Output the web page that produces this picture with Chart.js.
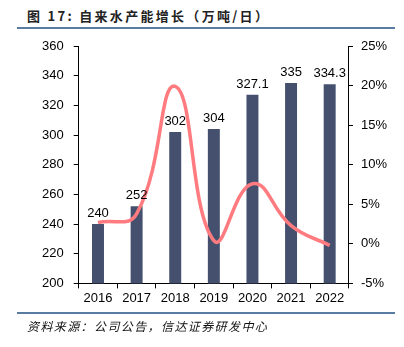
<!DOCTYPE html>
<html>
<head>
<meta charset="utf-8">
<script src="https://cdn.jsdelivr.net/npm/chart.js@4"></script>
<style>
  body { margin: 0; background: #fff; width: 404px; height: 347px; overflow: hidden; position: relative; font-family: "Liberation Sans", Arial, sans-serif; }
  #title { position: absolute; left: 27px; top: 6px; font-size: 13px; font-weight: bold; color: #222; font-family: "Noto Sans CJK SC", sans-serif; letter-spacing: 2.3px; }
  .rule { position: absolute; left: 17px; width: 378px; height: 2px; background: #5a7ca3; }
  #footer { position: absolute; left: 27px; top: 317px; font-size: 12px; font-style: italic; color: #111; font-family: "Noto Sans CJK SC", sans-serif; letter-spacing: 1.4px; }
  #wrap { position: absolute; left: 0; top: 0; width: 404px; height: 347px; }
</style>
</head>
<body>
<div id="title">图 17:  自来水产能增长（万吨/日）</div>
<div class="rule" style="top:27px"></div>
<div id="wrap"><canvas id="capChart"></canvas></div>
<div class="rule" style="top:312px"></div>
<div id="footer">资料来源：公司公告，信达证券研发中心</div>
<script>
// 年份与数据
const years = ['2016', '2017', '2018', '2019', '2020', '2021', '2022'];
const capacity = [240, 252, 302, 304, 327.1, 335, 334.3];   // 万吨/日
const growth = [2.7, 3.8, 19.9, 0.4, 7.6, 2.3, -0.2];        // %
const capLabels = ['240', '252', '302', '304', '327.1', '335', '334.3'];

// 柱顶数值标签
const barLabels = {
    id: 'barLabels',
    afterDatasetsDraw(chart) {
        const ctx = chart.ctx;
        const meta = chart.getDatasetMeta(1);
        ctx.save();
        ctx.font = '13px "Liberation Sans", Arial, sans-serif';
        ctx.fillStyle = '#000';
        ctx.textAlign = 'center';
        ctx.textBaseline = 'bottom';
        meta.data.forEach(function (bar, i) {
            ctx.fillText(capLabels[i], bar.x, bar.y - 4);
        });
        ctx.restore();
    }
};

const tickFont = { family: '"Liberation Sans", Arial, sans-serif', size: 13 };

new Chart(document.getElementById('capChart').getContext('2d'), {
    type: 'bar',
    data: {
        labels: years,
        datasets: [{
            type: 'line',
            label: '增长率',
            data: growth,
            yAxisID: 'y1',
            borderColor: '#ff7b7f',
            borderWidth: 3.5,
            pointRadius: 0,
            tension: 0.45,
            fill: false,
            order: 0
        }, {
            label: '产能',
            data: capacity,
            yAxisID: 'y',
            backgroundColor: '#44506e',
            barPercentage: 0.31,
            categoryPercentage: 1,
            order: 1
        }]
    },
    options: {
        responsive: true,
        maintainAspectRatio: false,
        animation: false,
        layout: { padding: { left: 32, right: 9, top: 46, bottom: 39 } },
        plugins: {
            legend: { display: false },
            tooltip: { enabled: false }
        },
        scales: {
            x: {
                offset: true,
                grid: { display: true, drawOnChartArea: false, offset: true, color: '#000', tickLength: 5 },
                border: { color: '#000', width: 1 },
                ticks: { color: '#000', font: tickFont, padding: 2 }
            },
            y: {
                position: 'left',
                min: 200, max: 360,
                ticks: { stepSize: 20, color: '#000', font: tickFont, padding: 10 },
                grid: { drawOnChartArea: false, color: '#000', tickLength: 5 },
                border: { color: '#000', width: 1 }
            },
            y1: {
                position: 'right',
                min: -5, max: 25,
                ticks: { stepSize: 5, color: '#000', font: tickFont, padding: 8,
                    callback: function (v) { return v + '%'; } },
                grid: { drawOnChartArea: false, color: '#000', tickLength: 4 },
                border: { color: '#000', width: 1 }
            }
        }
    },
    plugins: [barLabels]
});
</script>
</body>
</html>
